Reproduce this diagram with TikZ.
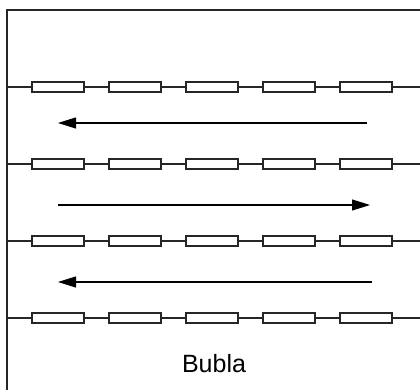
\documentclass[tikz,border=0pt]{standalone}
\usepackage{fontspec}
\setmainfont{Liberation Sans}
\usetikzlibrary{arrows.meta}
\tikzset{
  wire/.style={draw=black!85, line width=1.2pt},
  resbox/.style={draw=black!85, line width=1.2pt, fill=white, minimum width=52pt, minimum height=10pt, inner sep=0pt, outer sep=0pt},
  flow/.style={draw=black, line width=1.1pt, -{Triangle[length=18pt,width=11pt]}},
}
\begin{document}
\begin{tikzpicture}[x=1pt,y=-1pt]
\useasboundingbox (0,0) rectangle (420,390);
% frame
\coordinate (fbl) at (7,390);
\coordinate (ftl) at (7,10);
\coordinate (ftr) at (420,10);
\draw[wire] (fbl) -- (ftl) -- (ftr);
% rows of resistors
\foreach \r/\y in {1/87,2/164,3/241,4/318}{
  \coordinate (L\r) at (7,\y);
  \coordinate (R\r) at (420,\y);
  \foreach \i/\x in {1/58,2/135,3/212,4/289,5/366}{
    \node[resbox] (b\r\i) at (\x,\y) {};
  }
  \draw[wire] (L\r) -- (b\r1) -- (b\r2) -- (b\r3) -- (b\r4) -- (b\r5) -- (R\r);
}
% flow arrows
\coordinate (a1s) at (367,123); \coordinate (a1e) at (58,123);
\coordinate (a2s) at (58,205);  \coordinate (a2e) at (370,205);
\coordinate (a3s) at (372,282); \coordinate (a3e) at (58,282);
\draw[flow] (a1s) -- (a1e);
\draw[flow] (a2s) -- (a2e);
\draw[flow] (a3s) -- (a3e);
% label
\node[font=\fontsize{25}{30}\selectfont, inner sep=0pt, anchor=base] (lbl) at (214,372.7) {Bubla};
\end{tikzpicture}
\end{document}
